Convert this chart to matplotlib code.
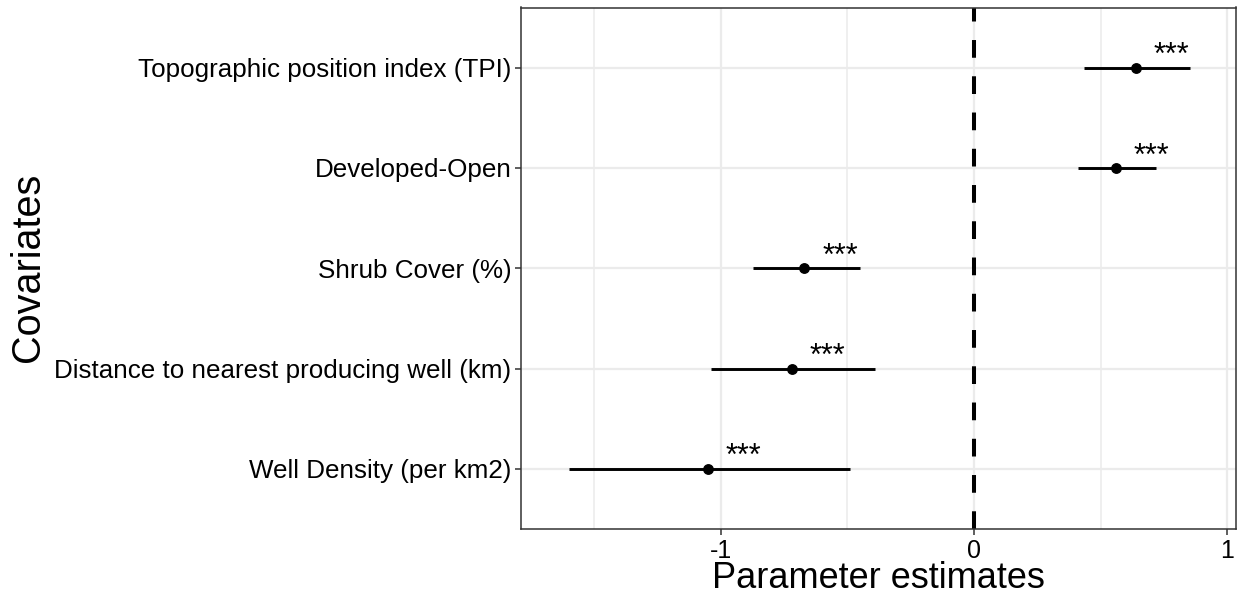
import numpy as np
import matplotlib
matplotlib.rcParams["font.family"] = ["Liberation Sans", "DejaVu Sans"]
import matplotlib.pyplot as plt

# covariates, bottom to top
covariates = ["Well Density (per km2)",
              "Distance to nearest producing well (km)",
              "Shrub Cover (%)",
              "Developed-Open",
              "Topographic position index (TPI)"]
estimate = [-1.05, -0.72, -0.67, 0.56, 0.64]
ci_low = [-1.60, -1.04, -0.875, 0.41, 0.435]
ci_high = [-0.49, -0.39, -0.45, 0.72, 0.853]
signif = ["***", "***", "***", "***", "***"]

GRID = "#EBEBEB"
FRAME = "#333333"


def main():
    fig = plt.figure(figsize=(12.39, 6.09), dpi=100)
    ax = fig.add_axes([521 / 1239, 1 - 529 / 609, 715 / 1239, 521.5 / 609])

    ys = np.arange(1, len(covariates) + 1)

    ax.axvline(0, color="black", lw=2.9, linestyle=(0, (4.4, 4.6)), zorder=2)
    ax.hlines(ys, ci_low, ci_high, color="black", lw=2.1, zorder=3)
    ax.plot(estimate, ys, "o", color="black", ms=6.8, zorder=4)

    for x, y, s in zip(estimate, ys, signif):
        ax.text(x + 0.14, y + 0.035, s, ha="center", va="baseline",
                fontsize=22, zorder=5)

    ax.set_xlim(-1.79, 1.035)
    ax.set_ylim(0.4, len(covariates) + 0.6)
    ax.set_xticks([-1, 0, 1])
    ax.set_xticklabels(["-1", "0", "1"])
    ax.set_xticks([-1.5, -0.5, 0.5], minor=True)
    ax.set_yticks(ys)
    ax.set_yticklabels(covariates)

    ax.grid(which="major", color=GRID, lw=1.6, zorder=0)
    ax.grid(which="minor", axis="x", color=GRID, lw=1.1, zorder=0)
    ax.set_axisbelow(True)

    ax.tick_params(axis="both", which="major", length=4, width=1.1,
                   color=FRAME, direction="out")
    ax.tick_params(axis="x", which="major", labelsize=18, pad=3)
    ax.tick_params(axis="y", which="major", labelsize=18.7, pad=3)
    ax.tick_params(which="minor", length=0)
    for sp in ax.spines.values():
        sp.set_color(FRAME)
        sp.set_linewidth(1.1)

    fig.text(878.5 / 1239, 1 - 588 / 609, "Parameter estimates",
             ha="center", va="baseline", fontsize=26)
    fig.text(28 / 1239, 1 - 267 / 609, "Covariates", rotation=90,
             ha="center", va="center", fontsize=28.5)

    fig.savefig("out.png", dpi=100)


if __name__ == "__main__":
    main()
